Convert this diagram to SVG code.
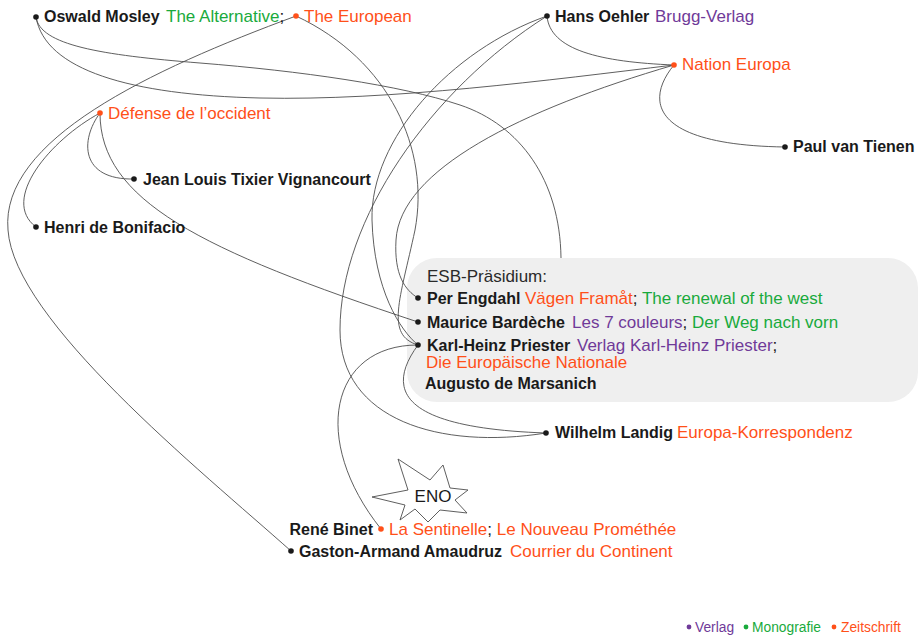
<svg xmlns="http://www.w3.org/2000/svg" width="922" height="636" viewBox="0 0 922 636">
<style>
text{font-family:"Liberation Sans",Arial,Helvetica,sans-serif;font-size:17px;fill:#1a1a1a}
.b{font-weight:bold;font-size:16px}
.o{fill:#ff5019}
.g{fill:#19aa3c}
.p{fill:#6f3a99}
.lg{font-size:13.8px}
.dk{fill:#1a1a1a}
.do{fill:#ff5019}
.dp{fill:#6f3a99}
.dg{fill:#19aa3c}
#connectors path{fill:none;stroke:#4d4d4d;stroke-width:0.9}
</style>
<rect width="922" height="636" fill="#ffffff"/>
<g id="esb-box">
<rect x="407" y="258" width="511" height="144" rx="30" fill="#efefef"/>
<text x="427" y="282" style="fill:#2a2a2a">ESB-Präsidium:</text>
</g>
<g id="connectors">
<path d="M36,17 C40,45 100,55 200,63 S400,85 460,105 S560,180 561,258"/>
<path d="M36,17 C45,70 130,95 260,98 S550,80 674,65"/>
<path d="M296,16 C150,70 0,140 8,230 C14,320 200,470 291,551"/>
<path d="M296,16 C390,60 430,150 415,230 C400,300 385,335 418,345"/>
<path d="M547,16 C450,50 370,140 372,220 C374,290 400,330 418,345"/>
<path d="M547,16 C430,90 340,220 340,330 C340,420 440,450 546,433"/>
<path d="M547,16 C550,50 600,62 674,65"/>
<path d="M674,65 C645,100 650,145 785,147"/>
<path d="M674,65 C520,110 400,170 396,240 C394,275 405,290 418,298"/>
<path d="M100,113 C80,140 80,180 134,179"/>
<path d="M100,113 C50,140 0,200 36,227"/>
<path d="M100,113 C100,200 200,250 418,322"/>
<path d="M418,345 C330,345 310,440 381,529"/>
<path d="M418,345 C385,390 400,428 546,433"/>
</g>
<g id="mosley">
<circle cx="36" cy="17" r="2.8" class="dk"/>
<text y="22"><tspan x="44" class="b">Oswald Mosley</tspan><tspan x="166" class="g">The Alternative</tspan><tspan>;</tspan></text>
</g>
<g id="the-european">
<circle cx="296" cy="16" r="2.8" class="do"/>
<text x="304" y="22" class="o">The European</text>
</g>
<g id="oehler">
<circle cx="547" cy="16" r="2.8" class="dk"/>
<text y="22"><tspan x="555" class="b">Hans Oehler</tspan><tspan x="655" class="p">Brugg-Verlag</tspan></text>
</g>
<g id="nation-europa">
<circle cx="674" cy="65" r="2.8" class="do"/>
<text x="682" y="70" class="o">Nation Europa</text>
</g>
<g id="defense">
<circle cx="100" cy="113" r="2.8" class="do"/>
<text x="108" y="119" class="o">Défense de l’occident</text>
</g>
<g id="van-tienen">
<circle cx="785" cy="147" r="2.8" class="dk"/>
<text x="793" y="152" class="b">Paul van Tienen</text>
</g>
<g id="tixier">
<circle cx="134" cy="179" r="2.8" class="dk"/>
<text x="143" y="185" class="b">Jean Louis Tixier Vignancourt</text>
</g>
<g id="bonifacio">
<circle cx="36" cy="227" r="2.8" class="dk"/>
<text x="44" y="233" class="b">Henri de Bonifacio</text>
</g>
<g id="engdahl">
<circle cx="418" cy="298" r="2.8" class="dk"/>
<text y="304"><tspan x="427" class="b">Per Engdahl</tspan><tspan x="525" class="o">Vägen Framåt</tspan><tspan>; </tspan><tspan class="g">The renewal of the west</tspan></text>
</g>
<g id="bardeche">
<circle cx="418" cy="322" r="2.8" class="dk"/>
<text y="328"><tspan x="427" class="b">Maurice Bardèche</tspan><tspan x="572" class="p">Les 7 couleurs</tspan><tspan>; </tspan><tspan class="g">Der Weg nach vorn</tspan></text>
</g>
<g id="priester">
<circle cx="418" cy="345" r="2.8" class="dk"/>
<text y="351"><tspan x="427" class="b">Karl-Heinz Priester</tspan><tspan x="577" class="p">Verlag Karl-Heinz Priester</tspan><tspan>;</tspan></text>
<text x="426" y="367.5" class="o">Die Europäische Nationale</text>
</g>
<g id="marsanich">
<text x="425" y="389" class="b">Augusto de Marsanich</text>
</g>
<g id="landig">
<circle cx="546" cy="433" r="2.8" class="dk"/>
<text y="438"><tspan x="555" class="b">Wilhelm Landig</tspan><tspan x="677" class="o">Europa-Korrespondenz</tspan></text>
</g>
<g id="eno">
<polygon points="372,497 408,490 398,459 430,480 443,465 450,488 468,490 455,500 467,513 440,510 428,522 415,509 400,520 405,505" fill="#ffffff" stroke="#4d4d4d" stroke-width="0.9"/>
<text x="433" y="502" text-anchor="middle">ENO</text>
</g>
<g id="binet">
<text x="373" y="535" class="b" text-anchor="end">René Binet</text>
<circle cx="381" cy="529" r="2.8" class="do"/>
<text y="535"><tspan x="389" class="o">La Sentinelle</tspan><tspan>; </tspan><tspan class="o">Le Nouveau Prométhée</tspan></text>
</g>
<g id="amaudruz">
<circle cx="291" cy="551" r="2.8" class="dk"/>
<text y="557"><tspan x="299" class="b">Gaston-Armand Amaudruz</tspan><tspan x="510" class="o">Courrier du Continent</tspan></text>
</g>
<g id="legend">
<circle cx="689" cy="627" r="2.4" class="dp"/>
<text x="695" y="632" class="lg p">Verlag</text>
<circle cx="746" cy="627" r="2.4" class="dg"/>
<text x="752" y="632" class="lg g">Monografie</text>
<circle cx="834" cy="627" r="2.4" class="do"/>
<text x="841" y="632" class="lg o">Zeitschrift</text>
</g>
</svg>
